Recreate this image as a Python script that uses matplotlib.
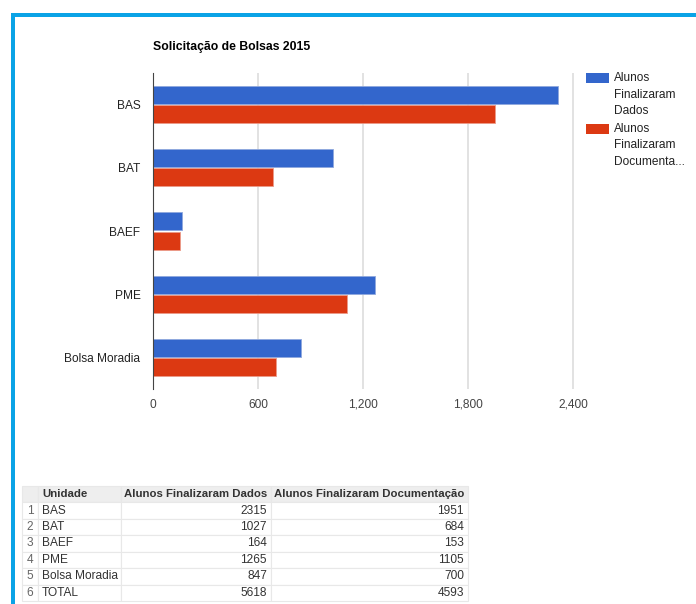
import matplotlib.pyplot as plt
from matplotlib.patches import Rectangle
import numpy as np

plt.rcParams['font.family'] = ['Liberation Sans', 'DejaVu Sans']

# data
unidades = ['BAS', 'BAT', 'BAEF', 'PME', 'Bolsa Moradia']
dados = [2315, 1027, 164, 1265, 847]
documentacao = [1951, 684, 153, 1105, 700]
series_names = ['Alunos Finalizaram Dados', 'Alunos Finalizaram Documentação']
legend_labels = ['Alunos\nFinalizaram\nDados', 'Alunos\nFinalizaram\nDocumenta...']
x_ticks = [0, 600, 1200, 1800, 2400]
title = 'Solicitação de Bolsas 2015'

COLORS = ['#3366cc', '#dc3912']
W, H = 696, 604


def fx(px):
    return px / W


def fy(py):
    return 1 - py / H


fig = plt.figure(figsize=(W / 100, H / 100), dpi=100)

# blue frame round the page
frame = '#0aa3e6'
fig.add_artist(Rectangle((fx(11), fy(17)), 1 - fx(11), fy(13) - fy(17),
                         color=frame, transform=fig.transFigure, lw=0))
fig.add_artist(Rectangle((fx(11), 0), fx(15) - fx(11), fy(13),
                         color=frame, transform=fig.transFigure, lw=0))

# bar chart
ax = fig.add_axes([fx(153), fy(389), fx(574) - fx(153), fy(73) - fy(389)])
y = np.arange(len(unidades))
h = 0.285
ax.barh(y - h / 2 - 0.008, dados, height=h, color=COLORS[0],
        edgecolor='#8fa8dd', linewidth=0.6, zorder=3)
ax.barh(y + h / 2 + 0.008, documentacao, height=h, color=COLORS[1],
        edgecolor='#eb9a88', linewidth=0.6, zorder=3)
ax.set_ylim(len(unidades) - 0.5, -0.5)
ax.set_xlim(0, 2404)
ax.set_xticks(x_ticks)
ax.set_xticklabels([f'{v:,}' for v in x_ticks])
ax.set_yticks(y)
ax.set_yticklabels(unidades)
ax.tick_params(axis='x', length=0, pad=7, labelsize=8.6, labelcolor='#444444')
ax.tick_params(axis='y', length=0, pad=9, labelsize=8.6, labelcolor='#222222')
ax.xaxis.grid(True, color='#dddddd', lw=1.2)
ax.set_axisbelow(True)
for s in ['top', 'right', 'bottom']:
    ax.spines[s].set_visible(False)
ax.spines['left'].set_color('#444444')
ax.spines['left'].set_zorder(4)

fig.text(fx(153), fy(47), title, fontsize=8.8, fontweight='bold',
         color='#000000', va='center', ha='left')

# legend, box aligned with first text line
for i, lab in enumerate(legend_labels):
    top = 73 + i * 51
    fig.add_artist(Rectangle((fx(586), fy(top + 10)), fx(609) - fx(586),
                             fy(top) - fy(top + 10), color=COLORS[i],
                             transform=fig.transFigure, lw=0))
    fig.text(fx(614), fy(top - 1), lab, fontsize=8.6, color='#222222',
             va='top', ha='left', linespacing=1.5)

# table below the chart
rows = [[str(i + 1), u, str(d), str(c)]
        for i, (u, d, c) in enumerate(zip(unidades, dados, documentacao))]
rows.append([str(len(unidades) + 1), 'TOTAL', str(sum(dados)), str(sum(documentacao))])
col_px = [16, 83, 150, 197]
tab_ax = fig.add_axes([fx(22), fy(601), fx(468) - fx(22), fy(486) - fy(601)])
tab_ax.axis('off')
tbl = tab_ax.table(cellText=rows, colLabels=[''] + ['Unidade'] + series_names,
                   colWidths=[c / sum(col_px) for c in col_px],
                   bbox=[0, 0, 1, 1], cellLoc='right')
tbl.auto_set_font_size(False)
for (r, c), cell in tbl.get_celld().items():
    cell.set_edgecolor('#e8e8e8')
    cell.set_linewidth(0.8)
    cell.PAD = 4 / col_px[c]
    txt = cell.get_text()
    txt.set_fontsize(8.6)
    txt.set_color('#333333')
    if r == 0:
        cell.set_facecolor('#eeeeee')
        txt.set_fontsize(8.2)
        txt.set_fontweight('bold')
        txt.set_color('#333333')
        txt.set_horizontalalignment('left' if c < 2 else 'center')
    else:
        if c == 0:
            txt.set_color('#666666')
            txt.set_horizontalalignment('center')
        elif c == 1:
            txt.set_horizontalalignment('left')

fig.savefig('out.png', dpi=100)
